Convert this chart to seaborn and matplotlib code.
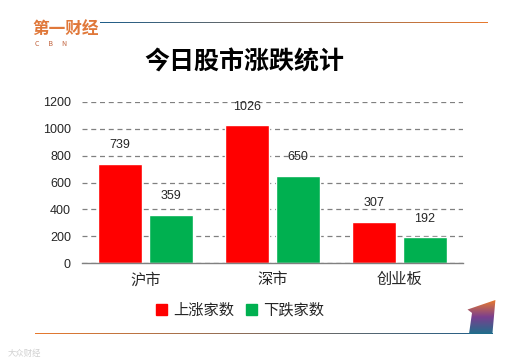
import numpy as np
import pandas as pd
import matplotlib
matplotlib.use('Agg')
import matplotlib.pyplot as plt
import seaborn as sns

markets = ['沪市', '深市', '创业板']
series = ['上涨家数', '下跌家数']
up_counts = [739, 1026, 307]
down_counts = [359, 650, 192]
y_ticks = [0, 200, 400, 600, 800, 1000, 1200]
colors = ['#FF0000', '#00B050']

df = pd.DataFrame({
    'market': markets * 2,
    'series': [series[0]] * 3 + [series[1]] * 3,
    'count': up_counts + down_counts,
})

sns.set_style('white')
plt.rcParams['font.family'] = ['Noto Sans CJK SC', 'DejaVu Sans']

fig = plt.figure(figsize=(5.09, 3.63), dpi=100)


def gradient_bar(rect, c_list, vertical=False, clip=None):
    gax = fig.add_axes(rect)
    grad = np.linspace(0, 1, 256).reshape(1, -1)
    if vertical:
        grad = grad.T
    cmap = matplotlib.colors.LinearSegmentedColormap.from_list('g', c_list)
    im = gax.imshow(grad, aspect='auto', cmap=cmap, extent=(0, 1, 0, 1))
    gax.set_xlim(0, 1)
    gax.set_ylim(0, 1)
    if clip is not None:
        poly = plt.Polygon(clip, transform=gax.transData, facecolor='none', edgecolor='none')
        gax.add_patch(poly)
        im.set_clip_path(poly)
    gax.axis('off')
    return gax


# decoration lines
gradient_bar([100 / 509, 1 - 23 / 363, 387 / 509, 1.2 / 363], ['#1F5F8B', '#E87A2E'])
gradient_bar([35 / 509, 1 - 334 / 363, 457 / 509, 1.2 / 363], ['#E87A2E', '#1F5F8B'])
# corner shape
gradient_bar([466 / 509, 1 - 334 / 363, 30 / 509, 34 / 363],
             ['#E87A2E', '#7A3F8F', '#1F6F8B'], vertical=True,
             clip=[(0.1, 0.0), (0.88, 0.0), (0.98, 1.0), (0.05, 0.72), (0.2, 0.62)])

# logo
fig.text(32 / 509, 1 - 29 / 363, '第一财经', fontsize=12, color='#E0783A',
         fontweight='bold', va='center', ha='left')
fig.text(35 / 509, 1 - 44 / 363, 'C      B      N', fontsize=5, color='#C0603A',
         va='center', ha='left')

fig.text(244 / 509, 1 - 62 / 363, '今日股市涨跌统计', fontsize=18, fontweight='bold',
         ha='center', va='center', color='black')

ax = fig.add_axes([82 / 509, 100 / 363, 381 / 509, 161 / 363])
sns.barplot(data=df, x='market', y='count', hue='series', palette=colors,
            width=0.8, gap=0.12, ax=ax, legend=False, saturation=1)

for cont in ax.containers:
    ax.bar_label(cont, padding=9, fontsize=9, fontfamily='Liberation Sans')

ax.set_ylim(0, 1200)
ax.set_yticks(y_ticks)
ax.set_yticklabels([str(t) for t in y_ticks], fontsize=9, fontfamily='Liberation Sans')
ax.tick_params(axis='x', labelsize=11, length=0, pad=6)
ax.tick_params(axis='y', length=0, pad=8)
ax.set_xlabel('')
ax.set_ylabel('')
ax.yaxis.grid(True, linestyle=(0, (4, 3)), color='#808080', linewidth=0.9)
ax.set_axisbelow(True)
for s in ['left', 'right', 'top']:
    ax.spines[s].set_visible(False)
ax.spines['bottom'].set_color('#808080')
ax.spines['bottom'].set_linewidth(1.0)
ax.set_xlim(-0.5, 2.5)

handles = [plt.Rectangle((0, 0), 1, 1, color=c) for c in colors]
fig.legend(handles, series, loc='center', bbox_to_anchor=(240 / 509, 1 - 310 / 363),
           ncol=2, frameon=False, fontsize=11, handlelength=0.7, handleheight=0.7,
           handletextpad=0.4, columnspacing=0.8)

fig.text(8 / 509, 1 - 353 / 363, '大众财经', fontsize=6, color='#D0D0D0', va='center')

fig.savefig('out.png', dpi=100)
